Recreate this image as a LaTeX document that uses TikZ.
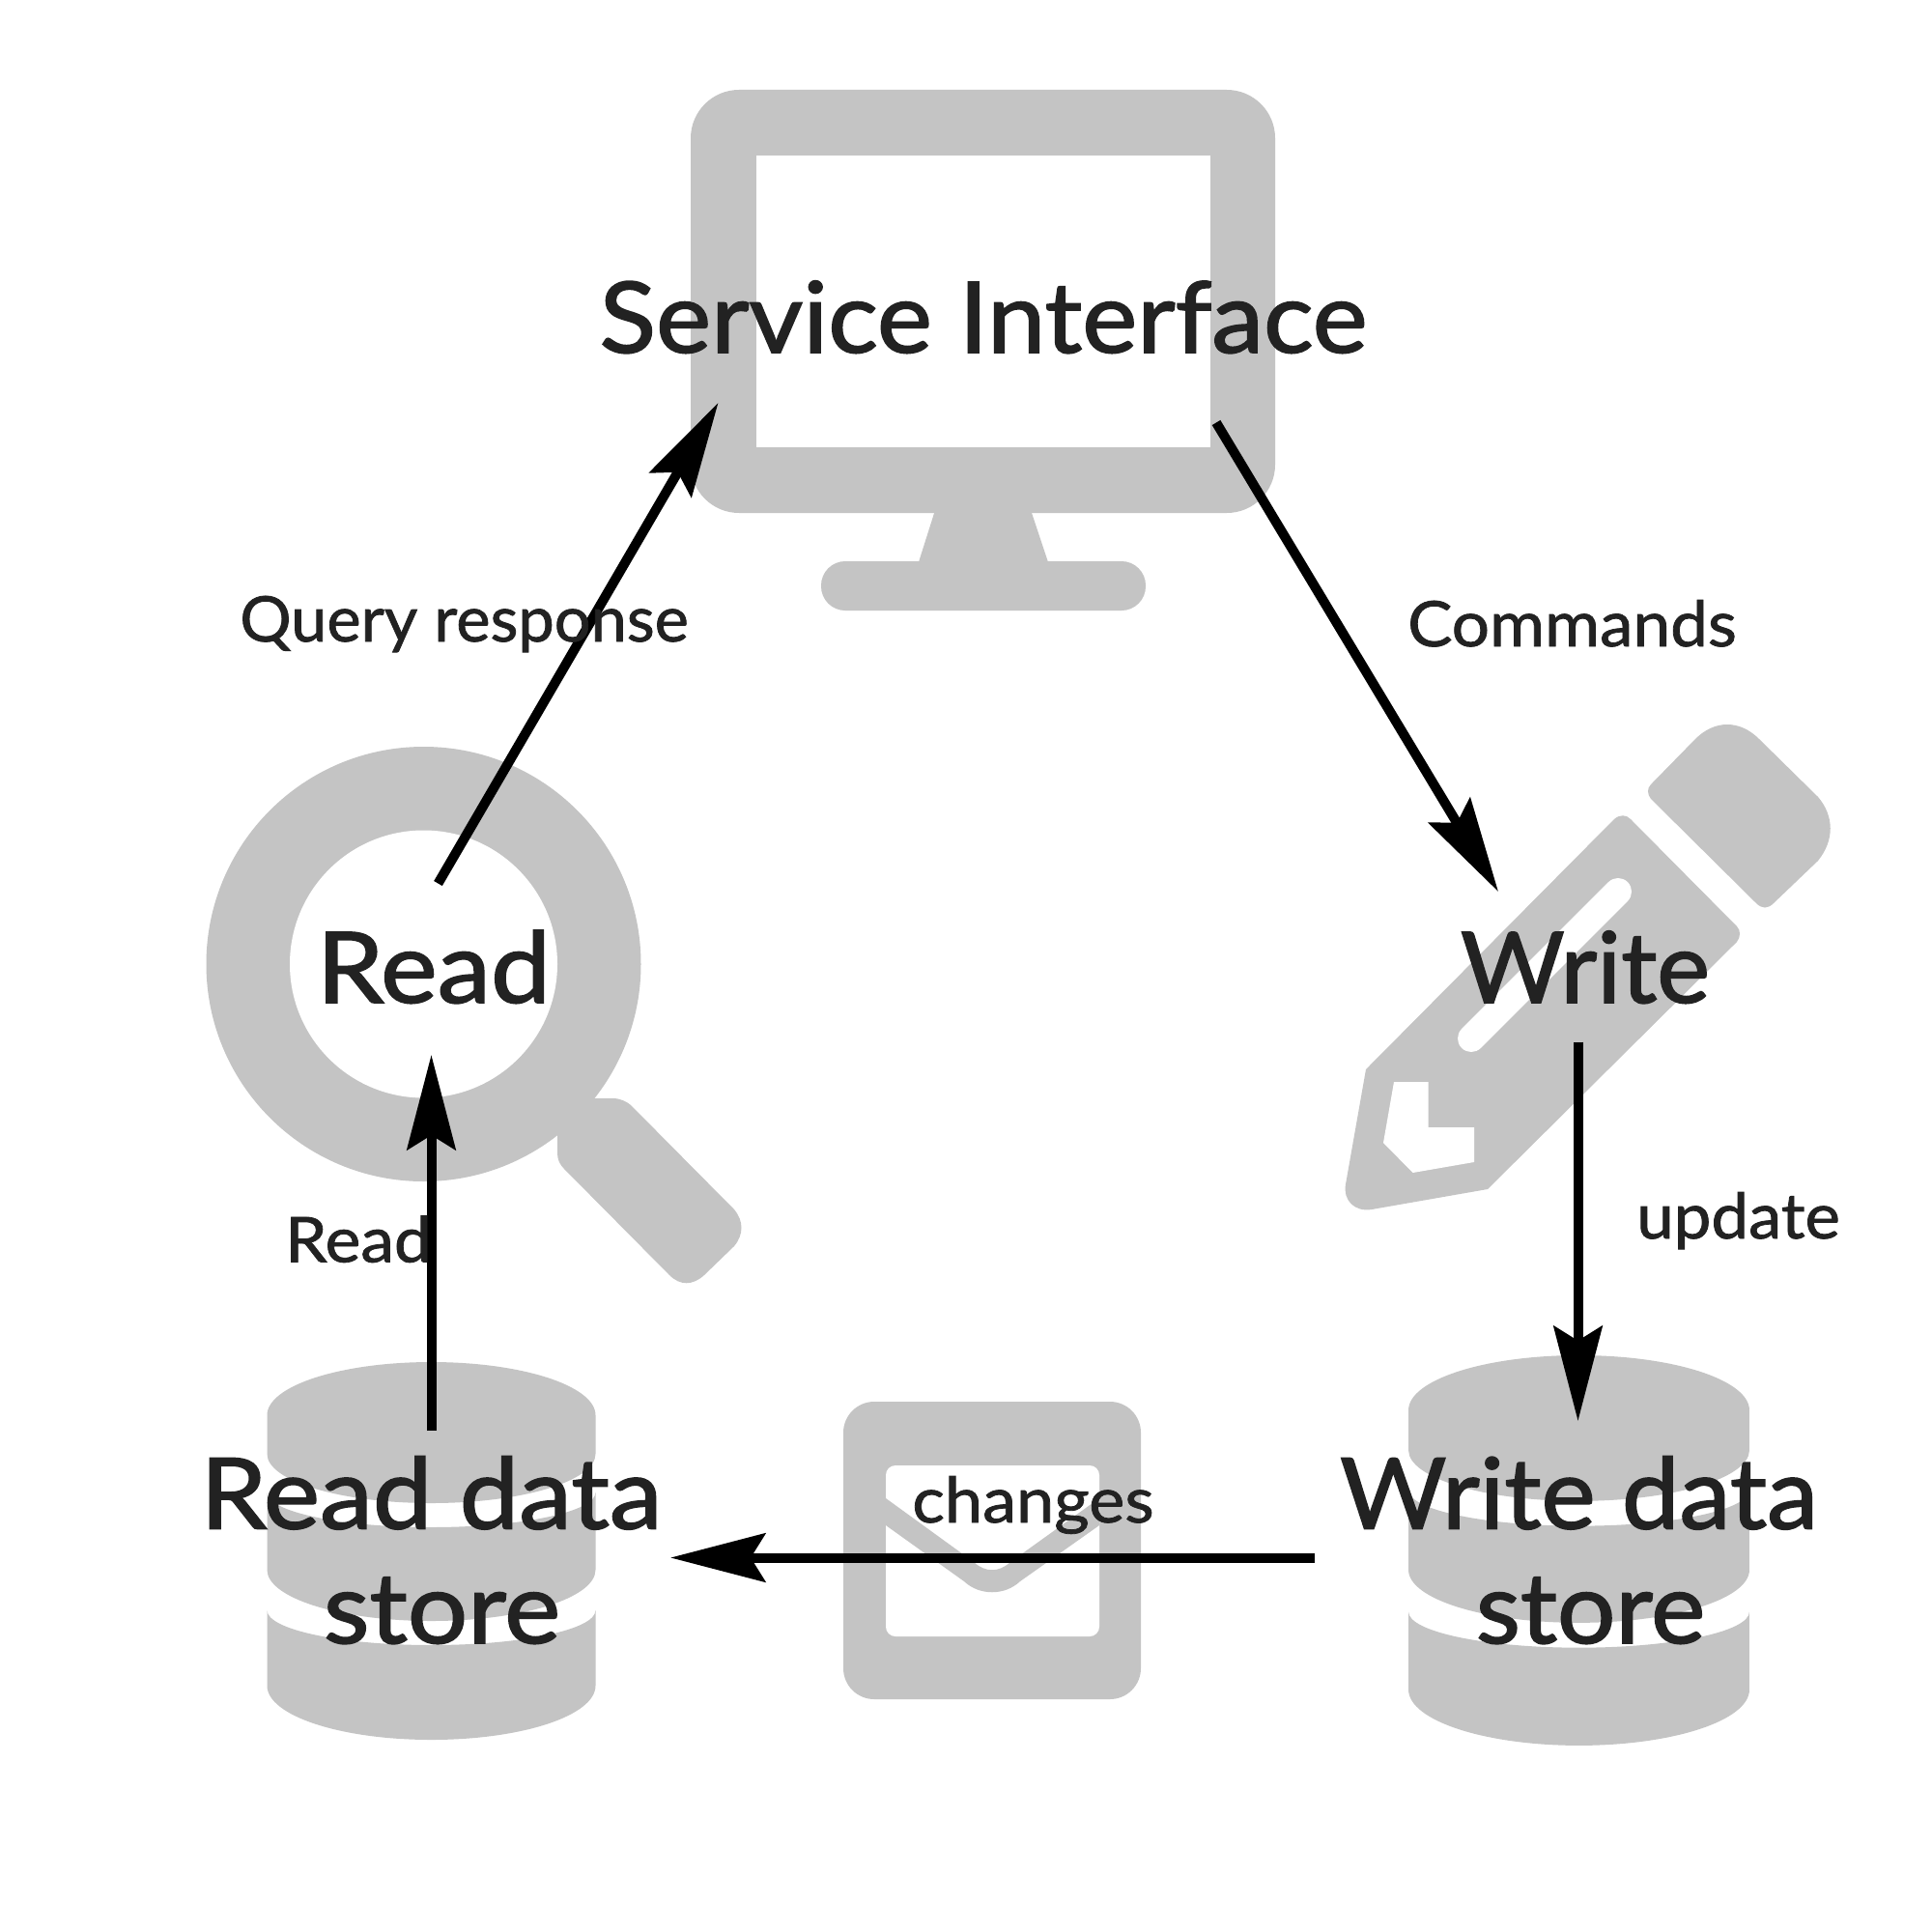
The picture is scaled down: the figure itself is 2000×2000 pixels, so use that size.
\documentclass[tikz,border=0pt]{standalone}
\usepackage{fontspec}
\setmainfont{Lato}
\usetikzlibrary{arrows.meta}
\definecolor{icongray}{HTML}{C4C4C4}
\definecolor{textdark}{HTML}{222222}
\tikzset{
    icon/.style={fill=icongray},
    hole/.style={fill=white},
    flow/.style={draw=black,line width=0.1cm,-{Stealth[length=0.98cm,width=0.5cm,inset=0.15cm]}},
    biglabel/.style={text=textdark,inner sep=0pt,align=center,anchor=base,
        font=\fontsize{29pt}{33.7pt}\selectfont\addfontfeature{FakeStretch=#1,FakeBold=1.6}},
    smalllabel/.style={text=textdark,inner sep=0pt,anchor=base,
        font=\fontsize{18.5pt}{22pt}\selectfont\addfontfeature{FakeStretch=#1,FakeBold=1.2}}
}
\begin{document}
\begin{tikzpicture}[x=0.01cm,y=-0.01cm]
    \path[use as bounding box,fill=white] (0,0) rectangle (2000,2000);

    \fill[icon,rounded corners=0.5cm] (715,93) rectangle (1320,531);
    \fill[hole] (782.5,161) rectangle (1253,463);
    \fill[icon] (969,525) -- (1066,525) -- (1086,585) -- (950,585) -- cycle;
    \fill[icon,rounded corners=0.25cm] (850,581) rectangle (1186,632);

    \fill[icon] (600,1137) -- (634,1137) .. controls (642,1137) and (648,1140) .. (653,1144)
        -- (760,1252) .. controls (770,1264) and (770,1278) .. (760,1290)
        -- (729,1320) .. controls (717,1331) and (704,1331) .. (693,1320)
        -- (584,1210) .. controls (579,1205) and (577,1200) .. (577,1193) -- (577,1137) -- cycle;
    \fill[icon] (438.5,998) circle[radius=225];
    \fill[hole] (438.5,998) circle[radius=138.5];

    \fill[icon] (1709,812) -- (1755,765) .. controls (1775,745) and (1801,745) .. (1821,765)
        -- (1882,825) .. controls (1899,845) and (1899,870) .. (1882,891)
        -- (1836,935) .. controls (1830,941) and (1824,941) .. (1818,935)
        -- (1709,827) .. controls (1705,822) and (1705,816) .. (1709,812) -- cycle;
    \fill[icon] (1671,848) .. controls (1677,843) and (1683,843) .. (1688,848)
        -- (1798,959) .. controls (1802,963) and (1802,970) .. (1798,975)
        -- (1540,1231) -- (1420,1252) .. controls (1402,1255) and (1390,1242) .. (1393,1226)
        -- (1414,1107) -- cycle;
    \draw[white,line width=0.28cm,line cap=round] (1523,1075) -- (1675,923);
    \fill[hole] (1443,1120) -- (1478.5,1120) -- (1478.5,1167) -- (1526,1167) -- (1526,1203)
        -- (1462.5,1214) -- (1432,1183) -- cycle;

    \fill[icon,rounded corners=0.32cm] (873,1451) rectangle (1181,1759);
    \fill[hole,rounded corners=0.1cm] (917,1517) rectangle (1138,1694);
    \fill[icon] (917,1551) -- (1008,1617) .. controls (1020,1628) and (1034,1628) .. (1046,1617)
        -- (1138,1551) -- (1138,1579) -- (1056,1637) .. controls (1040,1652) and (1014,1652) .. (998,1637)
        -- (917,1579) -- cycle;

    \foreach \dbx/\dbtop/\dbxs/\dbys in {446.5/1410/1/1,1634.5/1403/1.038/1.033}{
        \begin{scope}[shift={(\dbx,\dbtop)},xscale=\dbxs,yscale=\dbys]
            \fill[icon] (-170,55) arc[start angle=180,end angle=360,x radius=170,y radius=55]
                -- (170,95) arc[start angle=0,end angle=180,x radius=170,y radius=51] -- cycle;
            \fill[icon] (-170,135) arc[start angle=180,end angle=0,x radius=170,y radius=36]
                -- (170,215) arc[start angle=0,end angle=180,x radius=170,y radius=53] -- cycle;
            \fill[icon] (-170,257) arc[start angle=180,end angle=0,x radius=170,y radius=36]
                -- (170,335) arc[start angle=0,end angle=180,x radius=170,y radius=56] -- cycle;
        \end{scope}
    }

    \coordinate (readout) at (453.5,914.5);
    \coordinate (screenin) at (743.5,417);
    \coordinate (screenout) at (1259,437.5);
    \coordinate (writein) at (1551,923);
    \coordinate (writeout) at (1633.5,1078.5);
    \coordinate (writestorein) at (1633.5,1471);
    \coordinate (writestoreout) at (1361,1612.5);
    \coordinate (readstorein) at (694,1612.5);
    \coordinate (readstoreout) at (446.5,1481);
    \coordinate (readin) at (446.5,1092);

    \draw[flow] (readout) -- (screenin);
    \draw[flow] (screenout) -- (writein);
    \draw[flow] (writeout) -- (writestorein);
    \draw[flow] (writestoreout) -- (readstorein);
    \draw[flow] (readstoreout) -- (readin);

    \node[biglabel=1.06] (service) at (1018,365) {Service Interface};
    \node[biglabel=1.09] (read) at (449,1038) {Read};
    \node[biglabel=1.02] (write) at (1641,1038) {Write};
    \node[biglabel=1.08] (readstore) at (446.5,1701) {Read data\\\hspace*{0.22cm}store};
    \node[biglabel=1.045] (writestore) at (1634.5,1701) {Write data\\\hspace*{0.24cm}store};

    \node[smalllabel=1.025] (query) at (480.5,664) {Query response};
    \node[smalllabel=1.065] (commands) at (1627.5,669) {Commands};
    \node[smalllabel=1.06] (update) at (1799.5,1282) {update};
    \node[smalllabel=1.07] (readlabel) at (371,1306.5) {Read};
    \node[smalllabel=1.08] (changes) at (1069.5,1576) {changes};
\end{tikzpicture}
\end{document}
